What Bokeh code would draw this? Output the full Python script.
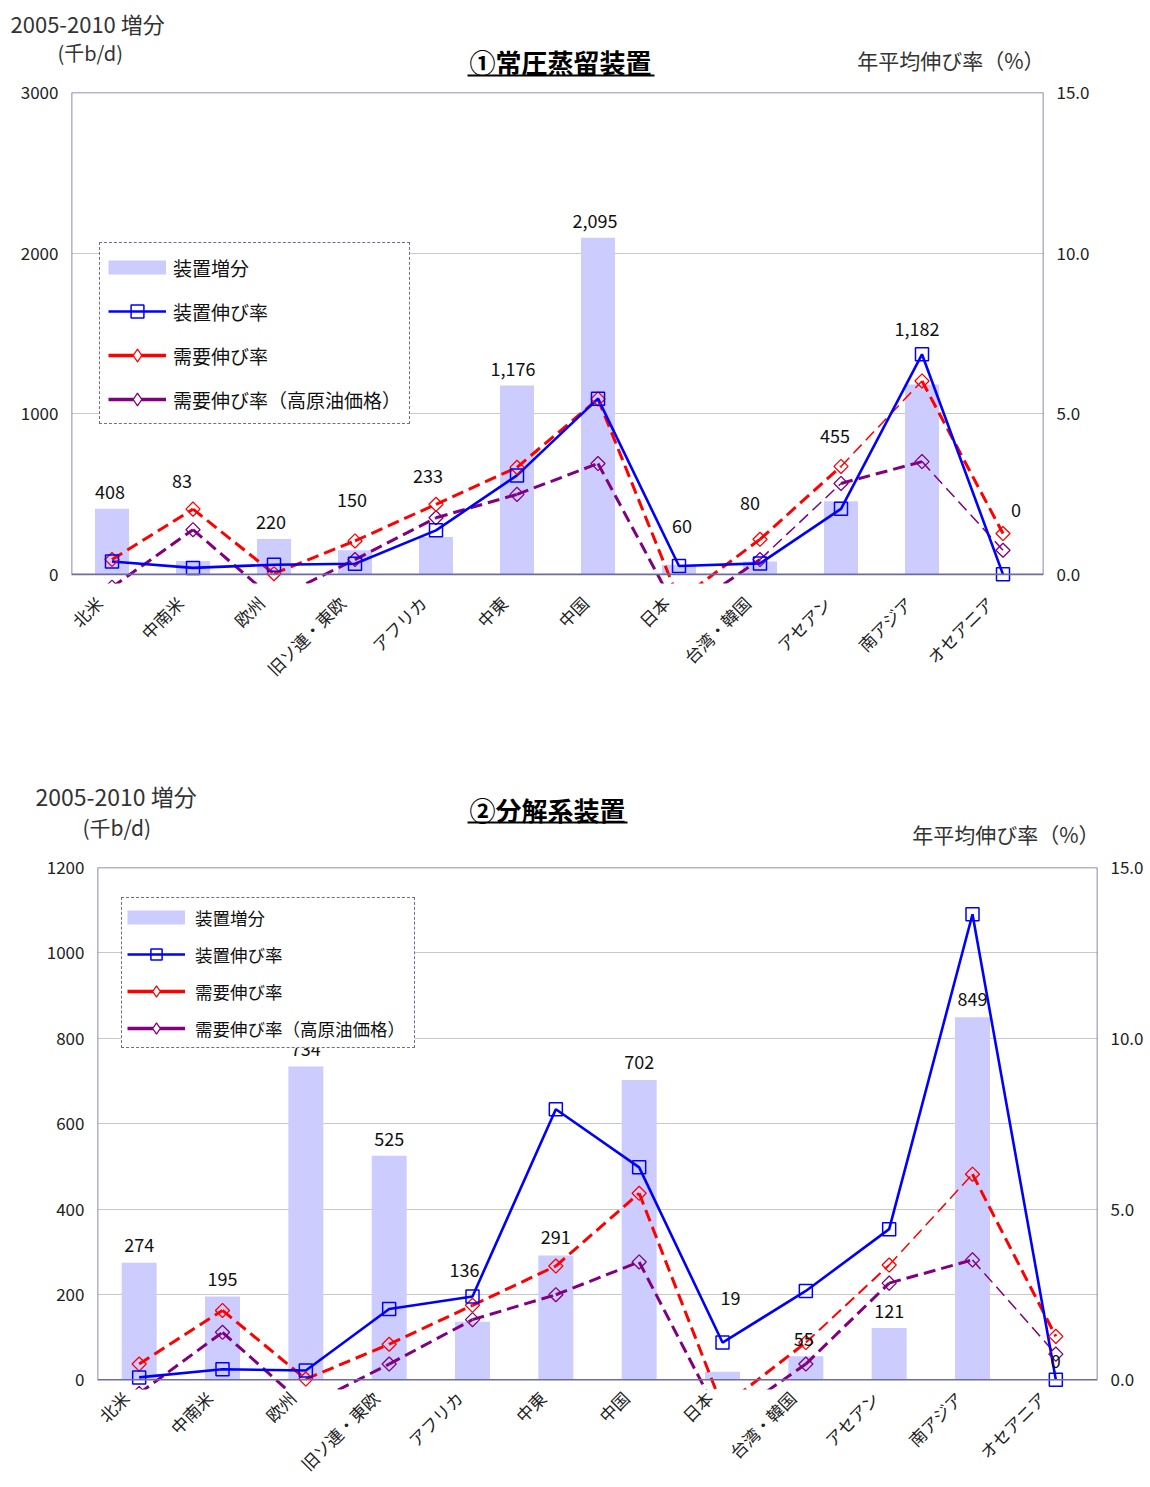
import math

from bokeh.core.properties import value
from bokeh.embed import file_html
from bokeh.layouts import column
from bokeh.models import (BoxAnnotation, ColumnDataSource, FixedTicker, LabelSet,
                          Legend, LegendItem, LinearAxis, NumeralTickFormatter, Range1d)
from bokeh.plotting import figure
from bokeh.resources import INLINE

# ---- data -----------------------------------------------------------------
regions = ["北米", "中南米", "欧州", "旧ソ連・東欧", "アフリカ", "中東", "中国",
           "日本", "台湾・韓国", "アセアン", "南アジア", "オセアニア"]

# ① 常圧蒸留装置: 2005-2010 capacity increase (千b/d) and annual growth (%)
cdu_increase = [408, 83, 220, 150, 233, 1176, 2095, 60, 80, 455, 1182, 0]
cdu_growth = [0.40, 0.20, 0.30, 0.33, 1.37, 3.08, 5.47, 0.26, 0.34, 2.04, 6.85, 0.00]

# ② 分解系装置
crack_increase = [274, 195, 734, 525, 136, 291, 702, 19, 55, 121, 849, 0]
crack_growth = [0.07, 0.31, 0.27, 2.07, 2.44, 7.92, 6.22, 1.09, 2.60, 4.41, 13.63, 0.00]

# demand growth (%), base case and high oil price case
demand_growth = [0.46, 2.03, 0.02, 1.04, 2.18, 3.33, 5.46, -0.80, 1.09, 3.36, 6.02, 1.27]
demand_growth_high_oil = [-0.40, 1.39, -0.78, 0.46, 1.76, 2.49, 3.45, -1.25, 0.46, 2.83, 3.51, 0.75]

left_ticks_cdu = [0, 1000, 2000, 3000]
left_ticks_crack = [0, 200, 400, 600, 800, 1000, 1200]
rate_ticks = [0, 5, 10, 15]

# ---- styling ----------------------------------------------------------------
JP = "Noto Sans CJK JP"
BAR = "#ccccff"
BLUE = "#0000ff"
RED = "#ff0000"
PURPLE = "#800080"
FRAME = "#6b6ba6"
TEXT = "#222222"
EXT = 0.019  # plot area continues slightly below the zero line
NAN = float("nan")

# one slot per region on the x axis, marks at the slot centres
xs = [i + 0.5 for i in range(len(regions))]

# value-label placement (left-axis units) and horizontal nudges (px)
cdu_label_y = [512, 581, 326, 461, 610, 1276, 2197, 299, 446, 861, 1529, 398]
cdu_label_dx = [-2, -11, -3, -3, -8, -4, -3, 3, -10, -6, -5, 13]
crack_label_y = [316, 236, 776, 563, 256, 335, 745, 191, 95, 162, 891, 43]
crack_label_dx = [0, 0, 0, 0, -8, 0, 0, 8, -2, 0, 0, 0]

# per-segment line widths of the dashed demand lines
cdu_red_w = [3, 3, 3, 3, 3, 3, 3, 3, 3, 1.5, 3]
cdu_purple_w = [3, 3, 3, 3, 3, 3, 3, 3, 1.5, 3, 1.5]
crack_red_w = [3, 3, 3, 3, 3, 3, 3, 3, 2, 1.5, 3]
crack_purple_w = [3, 3, 3, 3, 3, 3, 3, 3, 3, 3, 1.5]


def no_frame_align(p):
    if "frame_align" in p.properties():
        p.frame_align = False


def style_axis(axis, size):
    axis.axis_line_color = None
    axis.major_tick_line_color = None
    axis.minor_tick_line_color = None
    axis.major_tick_out = 0
    axis.major_tick_in = 0
    axis.major_label_text_font = JP
    axis.major_label_text_font_size = size
    axis.major_label_text_color = TEXT


def build_header(cfg):
    h = cfg["height"]
    p = figure(width=1150, height=h, x_range=Range1d(0, 1150), y_range=Range1d(h, 0),
               x_axis_type=None, y_axis_type=None, output_backend="svg",
               toolbar_location=None, min_border=0)
    no_frame_align(p)
    p.outline_line_color = None
    p.grid.visible = False
    p.background_fill_color = "white"
    p.border_fill_color = "white"

    tx, ty = cfg["title_pos"]
    p.text(x=[tx], y=[ty], text=[cfg["title"]], text_font=value(JP),
           text_font_size="26px", text_font_style="bold", text_align="center",
           text_baseline="middle", text_color="#000000")
    x0, x1, uy = cfg["underline"]
    p.segment(x0=[x0], y0=[uy], x1=[x1], y1=[uy], line_color="#000000", line_width=2)
    for text, x, y, align, size in cfg["captions"]:
        p.text(x=[x], y=[y], text=[text], text_font=value(JP), text_font_size=size,
               text_color="#333333", text_align=align, text_baseline="middle")
    return p


def build_chart(cfg):
    y_max = cfg["left_ticks"][-1]
    p = figure(width=1150, height=cfg["height"],
               x_range=Range1d(0, len(regions)),
               y_range=Range1d(-EXT * y_max, y_max),
               output_backend="svg", toolbar_location=None,
               min_border_left=cfg["border"][0], min_border_right=cfg["border"][1],
               min_border_top=cfg["border"][2], min_border_bottom=cfg["border"][3])
    no_frame_align(p)
    p.outline_line_color = None
    p.background_fill_color = "white"
    p.border_fill_color = "white"

    p.extra_y_ranges = {"rate": Range1d(-EXT * 15, 15)}
    right = LinearAxis(y_range_name="rate", ticker=FixedTicker(ticks=rate_ticks),
                       formatter=NumeralTickFormatter(format="0.0"))
    p.add_layout(right, "right")

    # region names: rotated, anchored a little left of each slot centre
    name_ticks = [round(x - cfg["cat_shift"], 4) for x in xs]
    xaxis = p.xaxis[0]
    xaxis.ticker = FixedTicker(ticks=name_ticks)
    xaxis.major_label_overrides = dict(zip(name_ticks, regions))
    style_axis(xaxis, cfg["cat_size"])
    xaxis.major_label_orientation = math.pi / 4
    xaxis.major_label_standoff = cfg["cat_standoff"]

    p.yaxis[0].ticker = FixedTicker(ticks=cfg["left_ticks"])
    for ax in p.yaxis:
        style_axis(ax, cfg["tick_size"])
        ax.major_label_standoff = 13

    p.xgrid.visible = False
    p.ygrid.ticker = FixedTicker(ticks=cfg["left_ticks"][1:-1])
    p.ygrid.grid_line_color = "#c8c8c8"
    p.ygrid.grid_line_width = 1.2

    # plot-area border, closed at the zero line
    p.add_layout(BoxAnnotation(bottom=0, fill_alpha=0, line_color=FRAME,
                               line_alpha=1.0, line_width=1.6))

    p.vbar(x=xs, top=cfg["increase"], width=0.42, fill_color=BAR, line_color=None)

    def dashed_series(vals, widths, color):
        src = ColumnDataSource(dict(x0=xs[:-1], x1=xs[1:],
                                    y0=vals[:-1], y1=vals[1:], w=widths))
        p.segment("x0", "y0", "x1", "y1", source=src, line_color=color,
                  line_width="w", line_dash="12 6", y_range_name="rate")

    dashed_series(demand_growth_high_oil, cfg["purple_w"], PURPLE)
    dashed_series(demand_growth, cfg["red_w"], RED)
    blue_line = p.line(xs, cfg["growth"], line_color=BLUE, line_width=2.6,
                       y_range_name="rate")

    p.scatter(xs, demand_growth_high_oil, marker="square", angle=math.pi / 4,
              size=10, fill_color=None, line_color=PURPLE, line_width=1.3,
              y_range_name="rate")
    p.scatter(xs, demand_growth, marker="square", angle=math.pi / 4, size=10,
              fill_color=None, line_color=RED, line_width=1.3, y_range_name="rate")
    m_blue = p.scatter(xs, cfg["growth"], marker="square", size=13,
                       fill_color=None, line_color=BLUE, line_width=1.5,
                       y_range_name="rate")

    # legend-only swatches (nothing is drawn in the plot area for these)
    blank = [NAN] * len(xs)
    sw_bar = p.line(xs, blank, line_color=BAR, line_width=14, line_cap="butt")
    sw_red = p.line(xs, blank, line_color=RED, line_width=3.5)
    sw_purple = p.line(xs, blank, line_color=PURPLE, line_width=3.5)
    sw_red_m = p.scatter(xs, blank, marker="diamond", fill_color="white",
                         line_color=RED, line_width=1.3)
    sw_purple_m = p.scatter(xs, blank, marker="diamond", fill_color="white",
                            line_color=PURPLE, line_width=1.3)

    legend = Legend(items=[
        LegendItem(label="装置増分", renderers=[sw_bar]),
        LegendItem(label="装置伸び率", renderers=[blue_line, m_blue]),
        LegendItem(label="需要伸び率", renderers=[sw_red, sw_red_m]),
        LegendItem(label="需要伸び率（高原油価格）", renderers=[sw_purple, sw_purple_m]),
    ], location=cfg["legend_loc"], border_line_color=FRAME, border_line_width=1.8,
        border_line_alpha=1.0, border_line_dash="8 5", background_fill_color="white",
        background_fill_alpha=1.0, label_text_font=JP,
        label_text_font_size=cfg["legend_size"], label_text_color="#111111",
        glyph_width=58, glyph_height=cfg["legend_glyph_h"], label_height=20,
        label_width=cfg["legend_label_w"],
        spacing=cfg["legend_spacing"], padding=cfg["legend_pad"],
        label_standoff=cfg["legend_standoff"], margin=0)
    p.add_layout(legend)

    # value labels above the bars, drawn after the legend so they stay on top
    label_src = ColumnDataSource(dict(
        x=xs, y=cfg["label_y"], dx=cfg["label_dx"],
        text=[f"{v:,}" for v in cfg["increase"]]))
    p.add_layout(LabelSet(x="x", y="y", x_offset="dx", text="text", source=label_src,
                          text_align="center", text_baseline="middle",
                          text_font=value(JP), text_font_size=value("18px"),
                          text_color="#111111"))
    return p


head_top = build_header(dict(
    height=80,
    title="①常圧蒸留装置", title_pos=(560, 61), underline=(467, 654, 75),
    captions=[("2005-2010 増分", 10, 22, "left", "22px"),
              ("(千b/d)", 57, 52, "left", "20px"),
              ("年平均伸び率（%）", 1044, 59, "right", "21px")],
))

top = build_chart(dict(
    height=640, border=(71, 107, 12, 137),
    left_ticks=left_ticks_cdu, increase=cdu_increase, growth=cdu_growth,
    label_y=cdu_label_y, label_dx=cdu_label_dx,
    red_w=cdu_red_w, purple_w=cdu_purple_w,
    tick_size="17px", cat_size="17px", cat_standoff=16, cat_shift=0.16,
    legend_loc=(28, 159), legend_size="19px", legend_spacing=12, legend_pad=8,
    legend_glyph_h=32, legend_label_w=20, legend_standoff=7,
))

head_bottom = build_header(dict(
    height=135,
    title="②分解系装置", title_pos=(547, 89), underline=(467, 627, 102),
    captions=[("2005-2010 増分", 35, 75, "left", "23px"),
              ("(千b/d)", 82, 106, "left", "21px"),
              ("年平均伸び率（%）", 1099, 113, "right", "21px")],
))

bottom = build_chart(dict(
    height=632, border=(97, 53, 12, 97),
    left_ticks=left_ticks_crack, increase=crack_increase, growth=crack_growth,
    label_y=crack_label_y, label_dx=crack_label_dx,
    red_w=crack_red_w, purple_w=crack_purple_w,
    tick_size="17px", cat_size="17px", cat_standoff=5, cat_shift=0.16,
    legend_loc=(24, 341), legend_size="17.5px", legend_spacing=9, legend_pad=5,
    legend_glyph_h=28, legend_label_w=214, legend_standoff=10,
))

page = column(head_top, top, head_bottom, bottom, spacing=0)
open("out.html", "w").write(file_html(page, INLINE))
